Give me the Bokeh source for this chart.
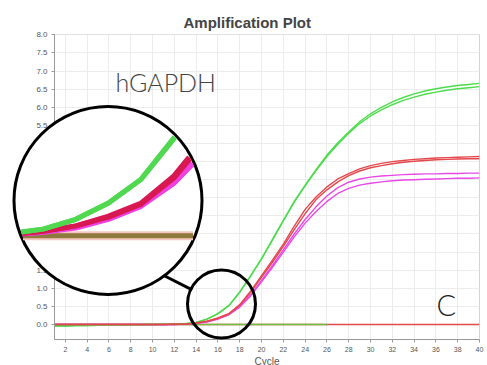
import numpy as np
from bokeh.plotting import figure
from bokeh.models import FixedTicker, NumeralTickFormatter, Label, Range1d
from bokeh.embed import file_html
from bokeh.resources import INLINE

# ---------------- data ----------------
cycles = list(range(1, 41))

green_a = [-0.04, -0.04, -0.03, -0.03, -0.02, -0.02, -0.01, -0.01, 0.0, 0.0, 0.01, 0.01,
           0.02, 0.06, 0.15, 0.30, 0.52, 0.90, 1.35, 1.82, 2.35, 2.88, 3.40, 3.85, 4.28,
           4.68, 5.02, 5.32, 5.60, 5.82, 6.00, 6.15, 6.27, 6.37, 6.45, 6.51, 6.56, 6.60,
           6.63, 6.66]
green_b = [-0.04, -0.04, -0.03, -0.03, -0.02, -0.02, -0.01, -0.01, 0.0, 0.0, 0.01, 0.01,
           0.02, 0.06, 0.15, 0.30, 0.52, 0.89, 1.34, 1.81, 2.33, 2.86, 3.38, 3.83, 4.25,
           4.64, 4.98, 5.28, 5.55, 5.76, 5.93, 6.07, 6.19, 6.28, 6.36, 6.42, 6.47, 6.51,
           6.54, 6.57]
red_a = [0.0, 0.0, 0.0, 0.0, 0.0, 0.0, 0.0, 0.0, 0.0, 0.0, 0.0, 0.01,
         0.01, 0.04, 0.09, 0.18, 0.30, 0.55, 0.92, 1.35, 1.78, 2.22, 2.72, 3.18, 3.52,
         3.80, 4.02, 4.17, 4.30, 4.39, 4.45, 4.50, 4.53, 4.56, 4.58, 4.60, 4.61, 4.62,
         4.63, 4.64]
red_b = [0.0, 0.0, 0.0, 0.0, 0.0, 0.0, 0.0, 0.0, 0.0, 0.0, 0.0, 0.01,
         0.01, 0.04, 0.09, 0.17, 0.29, 0.53, 0.89, 1.30, 1.72, 2.16, 2.62, 3.06, 3.45,
         3.72, 3.94, 4.11, 4.24, 4.33, 4.39, 4.44, 4.48, 4.51, 4.53, 4.55, 4.56, 4.57,
         4.58, 4.58]
magenta_a = [0.0, 0.0, 0.0, 0.0, 0.0, 0.0, 0.0, 0.0, 0.0, 0.0, 0.0, 0.0,
             0.01, 0.03, 0.08, 0.16, 0.28, 0.50, 0.82, 1.22, 1.63, 2.06, 2.50, 2.90, 3.25,
             3.55, 3.78, 3.93, 4.02, 4.07, 4.10, 4.12, 4.14, 4.15, 4.16, 4.16, 4.17, 4.17,
             4.18, 4.18]
magenta_b = [0.0, 0.0, 0.0, 0.0, 0.0, 0.0, 0.0, 0.0, 0.0, 0.0, 0.0, 0.0,
             0.01, 0.03, 0.07, 0.15, 0.27, 0.48, 0.79, 1.18, 1.58, 2.00, 2.42, 2.80, 3.12,
             3.40, 3.62, 3.76, 3.85, 3.90, 3.94, 3.97, 3.99, 4.00, 4.01, 4.02, 4.03, 4.04,
             4.04, 4.05]
ntc_green_cycles = list(range(1, 27))
ntc_green = [0.0] * 26
ntc_red_cycles = list(range(1, 41))
ntc_red = [0.0] * 40

x_ticks = list(range(2, 41, 2))
y_ticks = [i * 0.5 for i in range(17)]

GREEN = "#4cdc4c"
RED = "#e4474c"
MAGENTA = "#e848e8"

# ---------------- geometry ----------------
W, H = 487, 365
FL, FT, FW, FH = 54, 34, 425, 305
X0, X1 = 1, 40
Y0, Y1 = -0.414, 8.01


def to_px(c, y):
    c = np.asarray(c, float); y = np.asarray(y, float)
    return FL + (c - X0) / (X1 - X0) * FW, FT + (Y1 - y) / (Y1 - Y0) * FH


def to_data(px, py):
    px = np.asarray(px, float); py = np.asarray(py, float)
    return X0 + (px - FL) * (X1 - X0) / FW, Y1 - (py - FT) * (Y1 - Y0) / FH


p = figure(width=W, height=H, frame_width=FW, frame_height=FH,
           output_backend="svg", toolbar_location=None,
           x_range=Range1d(X0, X1), y_range=Range1d(Y0, Y1),
           min_border_left=FL, min_border_right=W - FL - FW,
           min_border_top=FT, min_border_bottom=H - FT - FH,
           background_fill_color="white", border_fill_color="white")

p.title.text = "Amplification Plot"
p.title.text_font = "Liberation Sans"
p.title.text_font_size = "15px"
p.title.text_font_style = "bold"
p.title.align = "left"
p.title.offset = 129
p.title.standoff = 8

p.outline_line_color = "#d4d4d4"
for ax in (p.xaxis[0], p.yaxis[0]):
    ax.axis_line_color = "#999999"
    ax.major_tick_line_color = "#999999"
    ax.minor_tick_line_color = None
    ax.major_tick_in = 0
    ax.major_tick_out = 3
    ax.major_label_text_color = "#555555"
    ax.major_label_text_font = "Liberation Sans"

p.xaxis.ticker = FixedTicker(ticks=x_ticks)
p.yaxis.ticker = FixedTicker(ticks=y_ticks)
p.yaxis.formatter = NumeralTickFormatter(format="0.0")
p.xaxis.major_label_text_font_size = "7px"
p.yaxis.major_label_text_font_size = "8px"
p.xaxis.major_label_standoff = 4
p.yaxis.major_label_standoff = 4
p.xaxis.axis_label = "Cycle"
p.xaxis.axis_label_text_font = "Liberation Sans"
p.xaxis.axis_label_text_font_size = "10px"
p.xaxis.axis_label_text_font_style = "normal"
p.xaxis.axis_label_text_color = "#555555"
p.xaxis.axis_label_standoff = 1

p.xgrid.grid_line_color = "#ececec"
p.ygrid.grid_line_color = "#ececec"
p.xgrid.ticker = FixedTicker(ticks=x_ticks)
p.ygrid.ticker = FixedTicker(ticks=y_ticks)

# ---------------- main curves ----------------
LW = 1.4
p.line(ntc_red_cycles, ntc_red, color=RED, line_width=LW)
p.line(ntc_green_cycles, ntc_green, color="#6cbf3c", line_width=LW)
p.line(cycles, magenta_b, color=MAGENTA, line_width=LW)
p.line(cycles, magenta_a, color=MAGENTA, line_width=LW)
p.line(cycles, green_b, color=GREEN, line_width=LW)
p.line(cycles, green_a, color=GREEN, line_width=LW)
p.line(cycles, red_b, color=RED, line_width=LW)
p.line(cycles, red_a, color=RED, line_width=LW)

# ---------------- magnifier ----------------
BIG_C = (107.5, 200.0)
BIG_R = 94.0
SMALL_C = (221.0, 303.5)
SMALL_R = 34.0
MAG = 3.0
FOCUS = (217.3, 312.3)  # main-plot pixel that maps to lens centre
CONNECT = [(163.3, 275.0), (191.7, 289.3)]


def clip_polyline(xs, ys, cx, cy, r):
    pieces, cur = [], []
    for i in range(len(xs) - 1):
        x1, y1, x2, y2 = xs[i], ys[i], xs[i + 1], ys[i + 1]
        dx, dy = x2 - x1, y2 - y1
        fx, fy = x1 - cx, y1 - cy
        a = dx * dx + dy * dy
        if a == 0:
            continue
        b = 2 * (fx * dx + fy * dy)
        c = fx * fx + fy * fy - r * r
        disc = b * b - 4 * a * c
        if disc <= 0:
            if cur:
                pieces.append(cur); cur = []
            continue
        sq = np.sqrt(disc)
        s = max((-b - sq) / (2 * a), 0.0)
        e = min((-b + sq) / (2 * a), 1.0)
        if s >= e:
            if cur:
                pieces.append(cur); cur = []
            continue
        ps = (x1 + s * dx, y1 + s * dy)
        pe = (x1 + e * dx, y1 + e * dy)
        if s > 0 or not cur:
            if cur:
                pieces.append(cur)
            cur = [ps]
        cur.append(pe)
        if e < 1:
            pieces.append(cur); cur = []
    if cur:
        pieces.append(cur)
    return pieces


def lens_pieces(cs, ys):
    px, py = to_px(cs, ys)
    lx = BIG_C[0] + MAG * (px - FOCUS[0])
    ly = BIG_C[1] + MAG * (py - FOCUS[1])
    out_x, out_y = [], []
    for piece in clip_polyline(list(lx), list(ly), BIG_C[0], BIG_C[1], BIG_R - 2):
        dxs, dys = to_data([q[0] for q in piece], [q[1] for q in piece])
        out_x.append(list(dxs)); out_y.append(list(dys))
    return out_x, out_y


renderers = []
bx, by = to_data([BIG_C[0]], [BIG_C[1]])
renderers.append(p.scatter(bx, by, marker="circle", size=2 * BIG_R,
                           fill_color="white", line_color="black", line_width=3))

lens_series = [
    (ntc_red_cycles, ntc_red, "#f2c8c0", 9, 1.0),
    (ntc_red_cycles, ntc_red, "#a07848", 5, 1.0),
    (ntc_green_cycles, ntc_green, "#8c7a3c", 4, 0.9),
    (cycles, magenta_b, "#f040e0", 5, 1.0),
    (cycles, magenta_a, "#f040e0", 5, 1.0),
    (cycles, red_b, "#d81850", 5, 1.0),
    (cycles, red_a, "#d81850", 5, 1.0),
    (cycles, green_b, "#50d850", 5, 1.0),
    (cycles, green_a, "#50d850", 5, 1.0),
]
for cs, ys, col, lw, al in lens_series:
    mx, my = lens_pieces(cs, ys)
    if mx:
        renderers.append(p.multi_line(mx, my, line_color=col, line_width=lw, line_alpha=al,
                                      line_join="round"))

cx_, cy_ = to_data([q[0] for q in CONNECT], [q[1] for q in CONNECT])
renderers.append(p.line(cx_, cy_, line_color="black", line_width=3))
sx, sy = to_data([SMALL_C[0]], [SMALL_C[1]])
renderers.append(p.scatter(sx, sy, marker="circle", size=2 * SMALL_R,
                           fill_color=None, line_color="black", line_width=3))
for r in renderers:
    r.level = "overlay"

# ---------------- text ----------------
hx, hy = to_data([115.0], [81.0])
p.add_layout(Label(x=float(hx[0]), y=float(hy[0]), text="hGAPDH", text_font="Lato Light",
                   text_font_size="25px", text_color="#444444", text_baseline="alphabetic"))
cxl, cyl = to_data([436.0], [304.0])
p.add_layout(Label(x=float(cxl[0]), y=float(cyl[0]), text="C", text_font="Lato Light",
                   text_font_size="29px", text_color="#222222", text_baseline="alphabetic"))

open("out.html", "w").write(file_html(p, INLINE))
